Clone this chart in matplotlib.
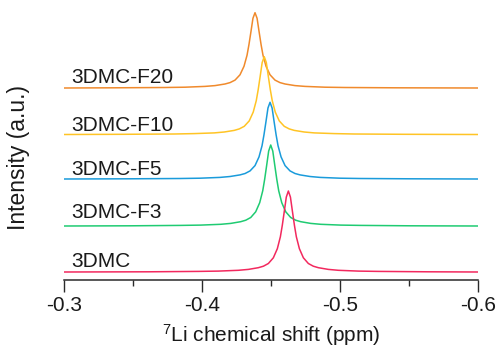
import matplotlib
matplotlib.use('Agg')
import matplotlib.pyplot as plt

plt.rcParams['font.family'] = ['Liberation Sans', 'DejaVu Sans']
plt.rcParams['mathtext.default'] = 'regular'

# 7Li NMR spectra, stacked (intensity values include the vertical offset)
shift_f20 = [-0.3000, -0.3368, -0.3731, -0.3876, -0.4021, -0.4094, -0.4166, -0.4203, -0.4239,
             -0.4275, -0.4304, -0.4326, -0.4340, -0.4355, -0.4369, -0.4384, -0.4399, -0.4413,
             -0.4428, -0.4442, -0.4464, -0.4493, -0.4529, -0.4565, -0.4602, -0.4674, -0.4747,
             -0.4892, -0.5037, -0.5400, -0.6000]
int_f20 = [192.0, 192.2, 192.5, 192.8, 193.6, 194.4, 196.0, 197.4, 199.9, 205.2, 213.7, 224.7,
           235.4, 248.8, 261.7, 267.3, 261.7, 248.8, 235.4, 224.7, 213.7, 205.2, 199.9, 197.4,
           196.0, 194.4, 193.6, 192.8, 192.5, 192.2, 192.0]

shift_f10 = [-0.3000, -0.3435, -0.3798, -0.3943, -0.4088, -0.4161, -0.4233, -0.4270, -0.4306,
             -0.4342, -0.4371, -0.4393, -0.4407, -0.4422, -0.4436, -0.4451, -0.4466, -0.4480,
             -0.4495, -0.4509, -0.4531, -0.4560, -0.4596, -0.4632, -0.4669, -0.4741, -0.4814,
             -0.4959, -0.5104, -0.5467, -0.6000]
int_f10 = [145.5, 145.7, 146.0, 146.4, 147.1, 148.0, 149.6, 151.1, 153.7, 159.1, 167.9, 179.3,
           190.3, 204.2, 217.5, 223.3, 217.5, 204.2, 190.3, 179.3, 167.9, 159.1, 153.7, 151.1,
           149.6, 148.0, 147.1, 146.4, 146.0, 145.7, 145.5]

shift_f5 = [-0.3000, -0.3477, -0.3840, -0.3985, -0.4130, -0.4203, -0.4275, -0.4312, -0.4348,
            -0.4384, -0.4413, -0.4435, -0.4449, -0.4464, -0.4478, -0.4493, -0.4508, -0.4522,
            -0.4537, -0.4551, -0.4573, -0.4602, -0.4638, -0.4674, -0.4711, -0.4783, -0.4856,
            -0.5001, -0.5146, -0.5509, -0.6000]
int_f5 = [101.0, 101.2, 101.5, 101.8, 102.6, 103.5, 105.1, 106.5, 109.1, 114.4, 123.1, 134.3,
          145.2, 158.8, 172.0, 177.7, 172.0, 158.8, 145.2, 134.3, 123.1, 114.4, 109.1, 106.5,
          105.1, 103.5, 102.6, 101.8, 101.5, 101.2, 101.0]

shift_f3 = [-0.3000, -0.3482, -0.3845, -0.3990, -0.4135, -0.4208, -0.4280, -0.4317, -0.4353,
            -0.4389, -0.4418, -0.4440, -0.4454, -0.4469, -0.4483, -0.4498, -0.4513, -0.4527,
            -0.4542, -0.4556, -0.4578, -0.4607, -0.4643, -0.4679, -0.4716, -0.4788, -0.4861,
            -0.5006, -0.5151, -0.5514, -0.6000]
int_f3 = [54.0, 54.2, 54.6, 54.9, 55.7, 56.6, 58.3, 59.8, 62.5, 68.2, 77.3, 89.2,
          100.7, 115.1, 128.9, 135.0, 128.9, 115.1, 100.7, 89.2, 77.3, 68.2, 62.5, 59.8,
          58.3, 56.6, 55.7, 54.9, 54.6, 54.2, 54.0]

shift_3dmc = [-0.3000, -0.3610, -0.3973, -0.4118, -0.4263, -0.4336, -0.4408, -0.4445, -0.4481,
              -0.4517, -0.4546, -0.4568, -0.4582, -0.4597, -0.4611, -0.4626, -0.4641, -0.4655,
              -0.4670, -0.4684, -0.4706, -0.4735, -0.4771, -0.4807, -0.4844, -0.4916, -0.4989,
              -0.5134, -0.5279, -0.5642, -0.6000]
int_3dmc = [8.0, 8.2, 8.6, 8.9, 9.7, 10.6, 12.3, 13.8, 16.5, 22.2, 31.3, 43.2,
            54.7, 69.1, 82.9, 89.0, 82.9, 69.1, 54.7, 43.2, 31.3, 22.2, 16.5, 13.8,
            12.3, 10.6, 9.7, 8.9, 8.6, 8.2, 8.0]

labels = ['3DMC-F20', '3DMC-F10', '3DMC-F5', '3DMC-F3', '3DMC']
label_y = [197, 149, 105, 62, 13]
colors = ['#F08A2C', '#FFC425', '#1A9BDB', '#1FCB72', '#F2295E']
shifts = [shift_f20, shift_f10, shift_f5, shift_f3, shift_3dmc]
intensities = [int_f20, int_f10, int_f5, int_f3, int_3dmc]

fig = plt.figure(figsize=(5, 3.49), dpi=100)
ax = fig.add_axes([64.3 / 500, 69 / 349, 413.4 / 500, 280 / 349])

for x, y, c in zip(shifts, intensities, colors):
    ax.plot(x, y, color=c, lw=1.1, solid_joinstyle='round')

for lab, ly in zip(labels, label_y):
    ax.text(-0.3049, ly, lab, fontsize=15, va='baseline', ha='left', color='#1a1a1a')

ax.set_xlim(-0.3, -0.6)
ax.set_ylim(0, 280)
ax.set_xticks([-0.3, -0.4, -0.5, -0.6])
ax.set_xticks([-0.35, -0.45, -0.55], minor=True)
ax.set_xticklabels(['-0.3', '-0.4', '-0.5', '-0.6'])
ax.set_yticks([])

for s in ['left', 'right', 'top']:
    ax.spines[s].set_visible(False)
ax.spines['bottom'].set_linewidth(1.1)
ax.spines['bottom'].set_color('#2a2a2a')
ax.tick_params(axis='x', which='major', direction='out', length=8.4, width=1.0,
               color='#2a2a2a', labelsize=15, pad=3, labelcolor='#1a1a1a')
ax.tick_params(axis='x', which='minor', direction='out', length=4, width=1.0, color='#2a2a2a')

ax.set_xlabel(r'$\mathregular{^7}$Li chemical shift (ppm)', fontsize=15, color='#1a1a1a')
ax.xaxis.set_label_coords(0.5, -0.15)
ax.set_ylabel('Intensity (a.u.)', fontsize=16.5, color='#1a1a1a')
ax.yaxis.set_label_coords(-0.083, 0.439)

fig.savefig('out.png', dpi=100)
